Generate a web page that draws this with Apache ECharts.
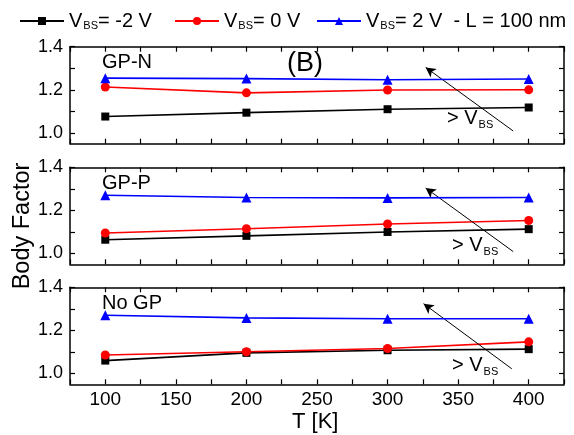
<!DOCTYPE html>
<html>
<head>
<meta charset="utf-8">
<script src="https://cdn.jsdelivr.net/npm/echarts@6/dist/echarts.min.js"></script>
<style>
  html, body { margin: 0; padding: 0; background: #fff; }
  #chart { width: 574px; height: 435px; }
</style>
</head>
<body>
<div id="chart"></div>
<script>
// temperatures (K)
const temps = [100, 200, 300, 400];
const panelNames = ['GP-N', 'GP-P', 'No GP'];
const seriesNames = ['VBS= -2 V', 'VBS= 0 V', 'VBS= 2 V'];
// body factor per panel
const vbsMinus2 = [
  [1.076, 1.094, 1.110, 1.118],
  [1.064, 1.082, 1.100, 1.113],
  [1.060, 1.096, 1.108, 1.113]
];
const vbs0 = [
  [1.213, 1.186, 1.199, 1.200],
  [1.095, 1.115, 1.137, 1.153],
  [1.086, 1.101, 1.116, 1.147]
];
const vbsPlus2 = [
  [1.254, 1.252, 1.247, 1.250],
  [1.270, 1.260, 1.258, 1.260],
  [1.270, 1.258, 1.254, 1.254]
];
const xTickLabels = [100, 150, 200, 250, 300, 350, 400];
const yTickLabels = [1.0, 1.2, 1.4];
const yTicks = [1.0, 1.1, 1.2, 1.3, 1.4];
// arrow ends in data coords (T, body factor)
const arrowFrom = [[389, 1.009], [389, 1.009], [388, 1.022]];
const arrowTo = [[327, 1.304], [327, 1.304], [325.5, 1.324]];

const chart = echarts.init(document.getElementById('chart'));

const gridTops = [46.7, 167.3, 287.3];
const colors = ['#000000', '#ff0000', '#0000ff'];
const symbols = ['rect', 'circle', 'triangle'];
const symSizes = [8, 9, 10];
const allData = [vbsMinus2, vbs0, vbsPlus2];
const font = 'Liberation Sans, Arial, sans-serif';
// "> VBS" label offsets inside each panel
const noteDx = [447, 452, 452];
const noteDy = [60, 66, 66];

const grids = [], xAxes = [], yAxes = [], series = [], graphics = [];
const axisLine = { show: true, lineStyle: { color: '#000', width: 1.5 } };
const tick = { show: true, inside: true, length: 5, lineStyle: { color: '#000', width: 1.2 } };

gridTops.forEach((top, p) => {
  grids.push({ left: 70, right: 10, top: top, height: 97 });
  ['bottom', 'top'].forEach((pos) => {
    xAxes.push({
      type: 'value', gridIndex: p, position: pos, min: 75, max: 425, interval: 25,
      splitLine: { show: false },
      axisLine: axisLine,
      axisTick: tick,
      axisLabel: {
        show: pos === 'bottom' && p === 2,
        customValues: xTickLabels,
        color: '#000', fontSize: 19, fontFamily: font, margin: 6
      }
    });
  });
  ['left', 'right'].forEach((pos) => {
    yAxes.push({
      type: 'value', gridIndex: p, position: pos, min: 0.95, max: 1.4,
      splitLine: { show: false },
      axisLine: axisLine,
      axisTick: Object.assign({}, tick, { customValues: yTicks }),
      axisLabel: {
        show: pos === 'left',
        customValues: yTickLabels,
        formatter: (v) => v.toFixed(1),
        color: '#000', fontSize: 18, fontFamily: font, margin: 7
      }
    });
  });
  allData.forEach((d, s) => {
    const ser = {
      name: seriesNames[s], type: 'line',
      xAxisIndex: p * 2, yAxisIndex: p * 2,
      data: temps.map((t, i) => [t, d[p][i]]),
      symbol: symbols[s], symbolSize: symSizes[s],
      lineStyle: { color: colors[s], width: 1.6 },
      itemStyle: { color: colors[s] },
      animation: false, z: 3 + s
    };
    if (s === 0) {
      ser.markLine = {
        silent: true, animation: false,
        symbol: ['none', 'arrow'], symbolSize: [8, 10],
        label: { show: false },
        lineStyle: { color: '#000', width: 1, type: 'solid' },
        data: [[{ coord: arrowFrom[p] }, { coord: arrowTo[p] }]]
      };
    }
    series.push(ser);
  });
  graphics.push({
    type: 'text', left: 102, top: top + 6,
    style: { text: panelNames[p], fontSize: 20, fontFamily: font, fill: '#000' }
  });
  graphics.push({
    type: 'text', left: noteDx[p], top: top + noteDy[p],
    style: {
      text: '{v|> V}{s|BS}', fontFamily: font, fill: '#000',
      rich: {
        v: { fontSize: 20, lineHeight: 22, verticalAlign: 'top', fontFamily: font },
        s: { fontSize: 11, lineHeight: 12, padding: [13, 0, 0, 1], verticalAlign: 'bottom', fontFamily: font }
      }
    }
  });
});

graphics.push({
  type: 'text', left: 287, top: 50,
  style: { text: '(B)', fontSize: 27, fontFamily: font, fill: '#000' }
});
graphics.push({
  type: 'text', x: 11, y: 226, rotation: Math.PI / 2,
  style: { text: 'Body Factor', fontSize: 23.5, fontFamily: font, fill: '#000', align: 'center', verticalAlign: 'top' }
});
graphics.push({
  type: 'text', left: 292, top: 411,
  style: { text: 'T [K]', fontSize: 22, fontFamily: font, fill: '#000' }
});

const legendRich = {
  v: { fontSize: 20, lineHeight: 20, verticalAlign: 'top', fontFamily: font, color: '#000' },
  s: { fontSize: 11, lineHeight: 11, padding: [15, 0, 0, 1], verticalAlign: 'bottom', fontFamily: font, color: '#000' }
};
const legendLefts = [14, 169, 311];
const legends = seriesNames.map((name, i) => ({
  left: legendLefts[i], top: 0, itemWidth: 44, itemHeight: 10,
  data: [name],
  formatter: (n) => {
    const extra = i === 2 ? '  - L = 100 nm' : '';
    return '{v|V}{s|BS}{v|' + n.slice(3) + extra + '}';
  },
  textStyle: { color: '#000', fontFamily: font, rich: legendRich }
}));

chart.setOption({
  backgroundColor: '#fff',
  animation: false,
  legend: legends,
  grid: grids,
  xAxis: xAxes,
  yAxis: yAxes,
  series: series,
  graphic: graphics
});
</script>
</body>
</html>
